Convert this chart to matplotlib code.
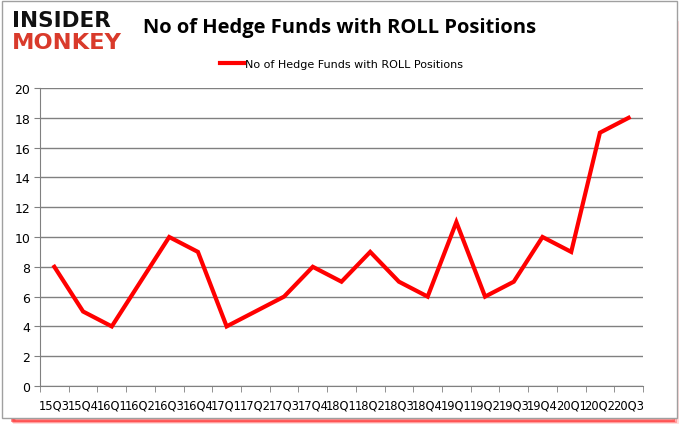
import matplotlib.pyplot as plt
from matplotlib.patches import Rectangle

quarters = ['15Q3', '15Q4', '16Q1', '16Q2', '16Q3', '16Q4', '17Q1', '17Q2', '17Q3',
            '17Q4', '18Q1', '18Q2', '18Q3', '18Q4', '19Q1', '19Q2', '19Q3', '19Q4',
            '20Q1', '20Q2', '20Q3']
funds = [8, 5, 4, 7, 10, 9, 4, 5, 6, 8, 7, 9, 7, 6, 11, 6, 7, 10, 9, 17, 18]
yticks = list(range(0, 21, 2))

W, H = 680, 431
fig = plt.figure(figsize=(W / 100, H / 100), dpi=100)

# frame with red shadow
for i, a in enumerate([0.15, 0.3, 0.5]):
    fig.add_artist(Rectangle(((14 - i) / W, (H - 423 + i) / H), (663 - i) / W, 400 / H,
                             transform=fig.transFigure, facecolor='none',
                             edgecolor=(1, 0, 0, a), lw=2, zorder=0))
fig.add_artist(Rectangle((2 / W, (H - 419) / H), 675 / W, 417 / H,
                         transform=fig.transFigure, facecolor='white',
                         edgecolor='#a0a0a0', lw=1, zorder=0.5))

ax = fig.add_axes([40 / W, 1 - 387 / H, 603 / W, 298 / H])
ax.set_zorder(2)
ax.patch.set_alpha(0)
x = list(range(len(quarters)))
ax.plot(x, funds, color='#ff0000', lw=3, label='No of Hedge Funds with ROLL Positions',
        solid_joinstyle='miter', zorder=3)

ax.set_xlim(-0.5, len(quarters) - 0.5)
ax.set_ylim(0, 20)
ax.set_yticks(yticks)
ax.set_yticklabels([str(v) for v in yticks], fontsize=9, family='DejaVu Sans')
ax.set_xticks(x)
ax.set_xticklabels(quarters, fontsize=8.3, family='DejaVu Sans')
ax.set_xticks([i - 0.5 for i in range(len(quarters) + 1)], minor=True)
ax.tick_params(axis='x', which='major', length=0, pad=9)
ax.tick_params(axis='x', which='minor', length=4, color='#808080')
ax.tick_params(axis='y', length=4, color='#808080', pad=3)
ax.grid(axis='y', color='#808080', lw=1)
ax.set_axisbelow(True)
for s in ['top', 'right']:
    ax.spines[s].set_visible(False)
for s in ['left', 'bottom']:
    ax.spines[s].set_color('#808080')

ax.legend(loc='lower center', bbox_to_anchor=(0.5, 1.03), frameon=False,
          handlelength=2.2, handletextpad=0.1,
          prop={'family': 'DejaVu Sans', 'size': 8})

fig.text(340 / W, 1 - 28 / H, 'No of Hedge Funds with ROLL Positions', ha='center',
         va='center', fontsize=14.5, fontweight='bold', family='Open Sans', zorder=3)
fig.text(12 / W, 1 - 21 / H, 'INSIDER', ha='left', va='center', fontsize=15.5,
         fontweight='heavy', family='DejaVu Sans', color='#111111', zorder=3)
fig.text(12 / W, 1 - 43 / H, 'MONKEY', ha='left', va='center', fontsize=16.2,
         fontweight='heavy', family='DejaVu Sans', color='#d93a2b', zorder=3)

fig.savefig('out.png', dpi=100)
